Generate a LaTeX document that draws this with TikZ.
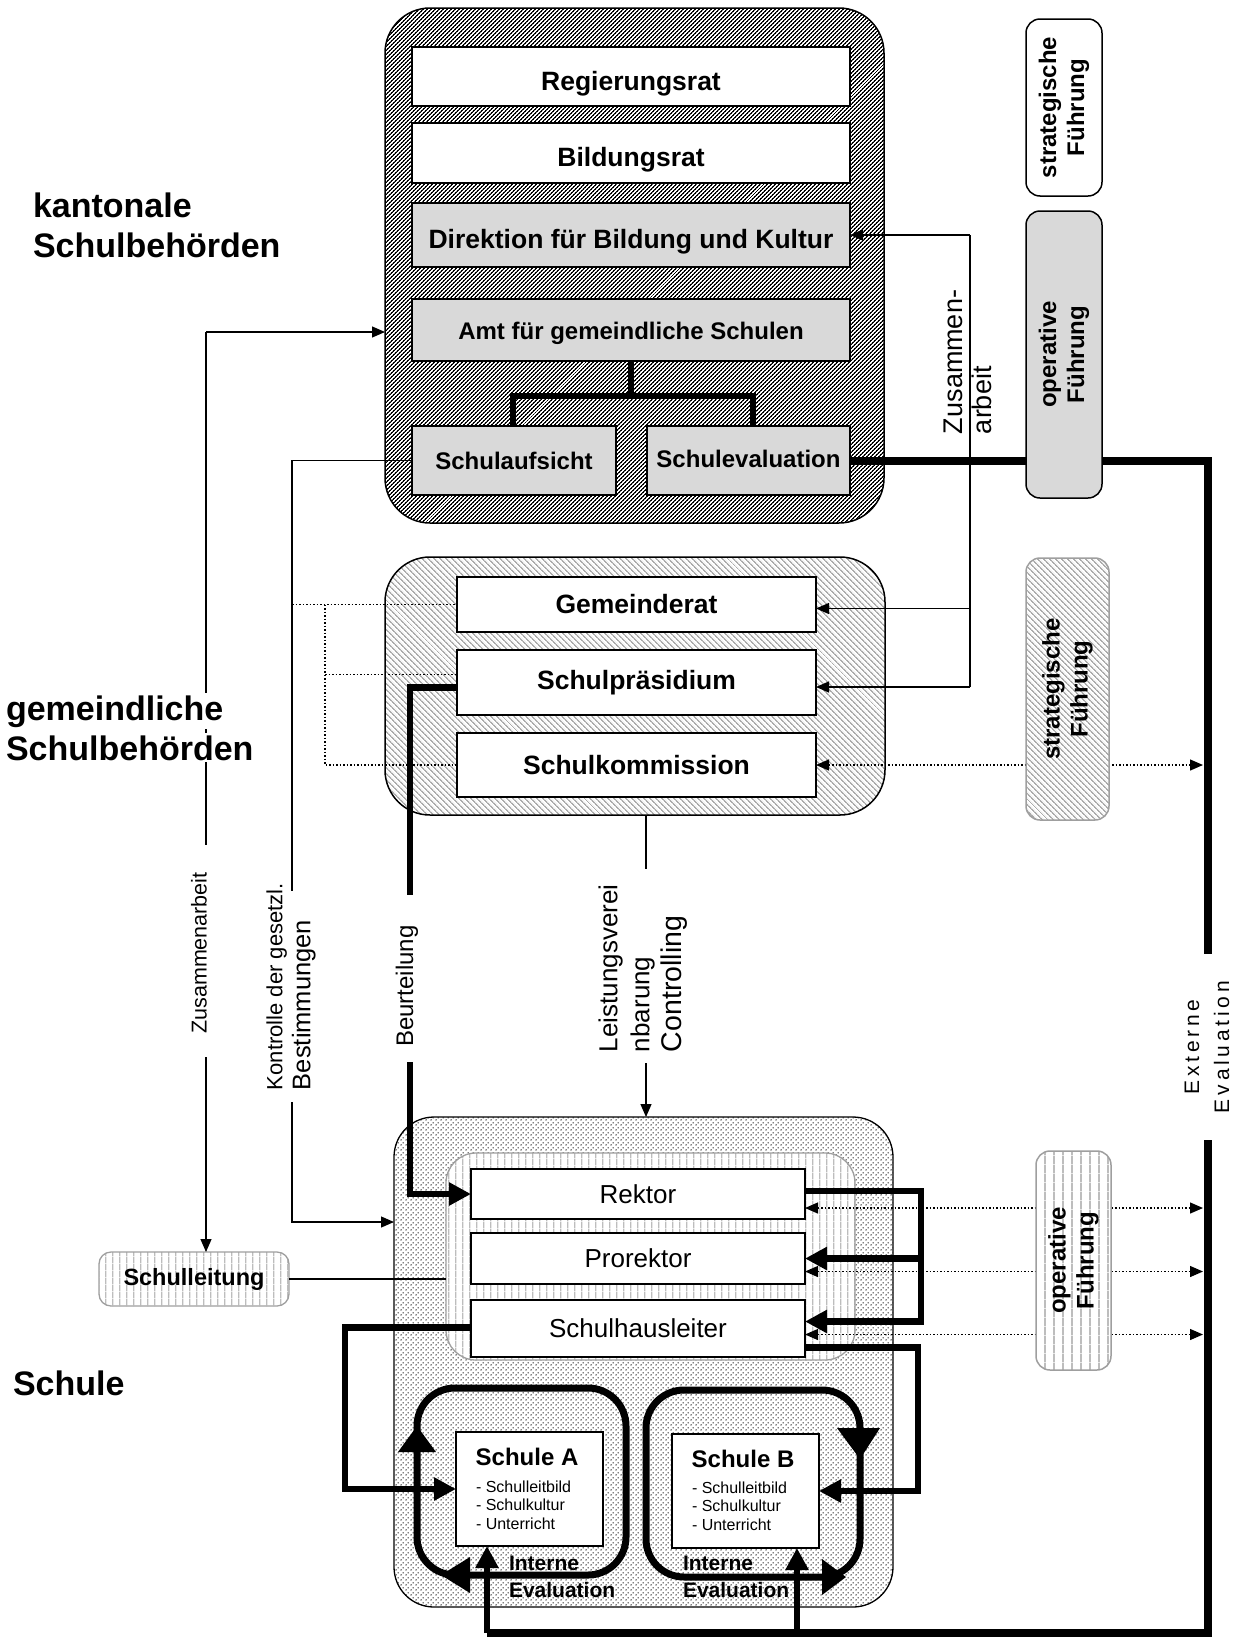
\documentclass[tikz,border=0pt]{standalone}
\usepackage{fontspec}
\setmainfont{Liberation Sans}
\usetikzlibrary{patterns.meta,arrows.meta,calc}
\definecolor{boxgray}{HTML}{D9D9D9}
\definecolor{hatchgray}{HTML}{ABABAB}
\definecolor{stripegray}{HTML}{BDBDBD}
\tikzdeclarepattern{name=hatchNE,
  bottom left={(0pt,0pt)}, top right={(3.2pt,3.2pt)}, tile size={(3.2pt,3.2pt)},
  tile transformation={rotate=-45},
  code={\fill (0pt,-0.2pt) rectangle (1.7pt,3.4pt);}}
\tikzdeclarepattern{name=hatchNW,
  bottom left={(0pt,0pt)}, top right={(4pt,4pt)}, tile size={(4pt,4pt)},
  tile transformation={rotate=45},
  code={\fill (0pt,-0.2pt) rectangle (1.8pt,4.2pt);}}
\tikzdeclarepattern{name=vstripe,
  bottom left={(0pt,0pt)}, top right={(7pt,7pt)}, tile size={(7pt,7pt)},
  code={\fill (0pt,-0.2pt) rectangle (1.6pt,7.2pt);}}
\tikzdeclarepattern{name=vstripewide,
  bottom left={(0pt,0pt)}, top right={(9pt,9pt)}, tile size={(9pt,9pt)},
  code={\fill (0pt,-0.2pt) rectangle (2pt,9.2pt);}}
\tikzdeclarepattern{name=dotgrid,
  bottom left={(0pt,0pt)}, top right={(5pt,5pt)}, tile size={(5pt,5pt)},
  code={\fill (1.25pt,1.25pt) circle (0.85pt); \fill (3.75pt,3.75pt) circle (0.85pt);}}
\begin{document}
\begin{tikzpicture}[x=1pt,y=-1pt,
  every node/.style={inner sep=0pt,outer sep=0pt},
  box/.style={draw,line width=1.3pt,fill=white,anchor=north west,font=\bfseries\fontsize{26.5}{30}\selectfont},
  topbox/.style={box,text height=27pt,text depth=0pt},
  gbox/.style={box,fill=boxgray,font=\bfseries\fontsize{24}{28}\selectfont},
  sbox/.style={draw,line width=1.3pt,fill=white,anchor=north west,font=\fontsize{26}{30}\selectfont},
  sidebox/.style={line width=1.5pt,rounded corners=14pt,anchor=north west},
  sidetext/.style={rotate=90,align=center,font=\bfseries\fontsize{24}{28}\selectfont},
  biglabel/.style={anchor=base west,font=\bfseries\fontsize{34}{40}\selectfont},
  thinl/.style={line width=1.2pt},
  sarrow/.style={thinl,-{Triangle[length=13pt,width=11pt]}},
  dotline/.style={line width=1.3pt,dash pattern=on 1.5pt off 2pt},
  dotarrow/.style={dotline,{Triangle[length=13pt,width=11pt]}-{Triangle[length=13pt,width=11pt]}},
  thk/.style={line width=6.5pt},
  barrow/.style={thk,-{Triangle[length=22pt,width=22pt]}},
  loopl/.style={line width=7pt,rounded corners=38pt},
  evtext/.style={anchor=base west,font=\bfseries\fontsize{21}{26}\selectfont},
]
\fill[white] (0,0) rectangle (1242,1641);
\useasboundingbox (0,0) rectangle (1242,1641);

% ---------------- kantonale Schulbehoerden ----------------
\node[draw,line width=1.5pt,rounded corners=45pt,preaction={fill=white},pattern=hatchNE,pattern color=black,
      anchor=north west,minimum width=499,minimum height=515] (kant) at (385,8) {};
\node[topbox,minimum width=438,minimum height=59] (regierung) at (412,47) {Regierungsrat};
\node[topbox,minimum width=438,minimum height=60] (bildung) at (412,123) {Bildungsrat};
\node[topbox,fill=boxgray,minimum width=438,minimum height=64] (direktion) at (412,203) {Direktion für Bildung und Kultur};
\node[gbox,text height=19pt,text depth=0pt,minimum width=438,minimum height=62] (amt) at (412,299) {Amt für gemeindliche Schulen};
\node[gbox,minimum width=204,minimum height=69] (aufsicht) at (412,426) {Schulaufsicht};
\node[gbox,minimum width=203,minimum height=69] (evaluation) at (647,426) {\raisebox{3pt}{Schulevaluation}};
\coordinate (jL) at (513,396);
\coordinate (jR) at (753,396);
\draw[line width=6pt] (amt.south) -- (amt.south |- jL);
\draw[line width=6pt] (jL |- aufsicht.north) -- (jL) -- (jR) -- (jR |- evaluation.north);

% ---------------- gemeindliche Schulbehoerden ----------------
\node[draw,line width=1.5pt,rounded corners=45pt,preaction={fill=white},pattern=hatchNW,pattern color=hatchgray,
      anchor=north west,minimum width=500,minimum height=258] (gem) at (385,557) {};
\node[box,minimum width=359,minimum height=55] (gemeinderat) at (457,577) {Gemeinderat};
\node[box,minimum width=359,minimum height=65] (praesidium) at (457,650) {Schulpräsidium};
\node[box,minimum width=359,minimum height=64] (kommission) at (457,733) {Schulkommission};

% ---------------- Schule ----------------
\node[draw,line width=1.3pt,rounded corners=40pt,preaction={fill=white},pattern=dotgrid,pattern color=black,
      anchor=north west,minimum width=499,minimum height=490] (schule) at (394,1117) {};
\node[draw=gray!75,line width=1.3pt,rounded corners=30pt,preaction={fill=white},pattern=vstripe,pattern color=stripegray,
      anchor=north west,minimum width=409,minimum height=207] (leitung) at (446,1153) {};
\node[sbox,minimum width=334,minimum height=50] (rektor) at (471,1169) {Rektor};
\node[sbox,minimum width=334,minimum height=51] (prorektor) at (471,1233) {Prorektor};
\node[sbox,minimum width=334,minimum height=57] (schulhaus) at (471,1300) {Schulhausleiter};

% loops (interne Evaluation)
\draw[loopl] (417,1388) rectangle (626,1575);
\draw[loopl] (646,1390) rectangle (860,1577);
\fill (417,1426) -- (398,1452) -- (436,1452) -- cycle;
\fill (441,1575) -- (470,1557) -- (470,1593) -- cycle;
\fill (860,1459) -- (837,1428) -- (880,1428) -- cycle;
\fill (846,1577) -- (822,1559) -- (822,1595) -- cycle;

\node[draw,line width=1.3pt,fill=white,anchor=north west,minimum width=147,minimum height=114] (schuleA) at (456,1432) {};
\node[draw,line width=1.3pt,fill=white,anchor=north west,minimum width=147,minimum height=114] (schuleB) at (672,1434) {};
\node[font=\bfseries\fontsize{24}{28}\selectfont] at (527,1457) {Schule A};
\node[font=\bfseries\fontsize{24}{28}\selectfont] at (743,1459) {Schule B};
\node[anchor=north west,align=left,font=\fontsize{16}{18.3}\selectfont] at (476,1481) {- Schulleitbild\\- Schulkultur\\- Unterricht};
\node[anchor=north west,align=left,font=\fontsize{16}{18.3}\selectfont] at (692,1482) {- Schulleitbild\\- Schulkultur\\- Unterricht};
\node[evtext] at (509,1570) {Interne};
\node[evtext] at (509,1597) {Evaluation};
\node[evtext] at (683,1570) {Interne};
\node[evtext] at (683,1597) {Evaluation};

% Schulleitung
\node[draw=gray!75,line width=1.3pt,rounded corners=12pt,preaction={fill=white},pattern=vstripe,pattern color=stripegray,
      anchor=north west,minimum width=190,minimum height=54,font=\bfseries\fontsize{23.5}{26}\selectfont] (sleitung) at (99,1252) {Schulleitung};

% ---------------- coordinates ----------------
\coordinate (zX) at (206,332);
\coordinate (zGapT) at (206,845);
\coordinate (zGapB) at (206,1057);
\coordinate (kX) at (292,0);
\coordinate (kGapT) at (292,891);
\coordinate (kGapB) at (292,1102);
\coordinate (kIn) at (292,1222);
\coordinate (dX) at (325,0);
\coordinate (bX) at (410,0);
\coordinate (bGapT) at (410,895);
\coordinate (bGapB) at (410,1062);
\coordinate (leiTop) at (646,869);
\coordinate (leiBot) at (646,1063);
\coordinate (zrTop) at (970,235);
\coordinate (zrBot) at (970,687);
\coordinate (ext) at (1203,0);
\coordinate (eX) at (1208,0);
\coordinate (extGapT) at (1208,954);
\coordinate (extGapB) at (1208,1140);
\coordinate (extBot) at (1208,1633);
\coordinate (rX) at (921,0);
\coordinate (sX) at (918,0);
\coordinate (hX) at (345,0);
\coordinate (aIn) at (487,1546);
\coordinate (bIn) at (797,1548);

% ---------------- connectors ----------------
% Zusammenarbeit (left)
\draw[sarrow] (zX) -- (zX -| kant.west);
\draw[thinl] (zX) -- (zGapT);
\draw[sarrow] (zGapB) -- (zGapB |- sleitung.north);
% Kontrolle
\draw[thinl] (aufsicht.west) -- (aufsicht.west -| kX) -- (kGapT);
\draw[sarrow] (kGapB) -- (kIn) -- (kIn -| schule.west);
% dotted links to gemeindliche Behoerden
\draw[dotline] (gemeinderat.west -| kX) -- (gemeinderat.west);
\draw[dotline] (gemeinderat.west -| dX) -- (kommission.west -| dX) -- (kommission.west);
\draw[dotline] ($(praesidium.west -| dX)+(0,-8)$) -- ($(praesidium.west)+(0,-8)$);
% Beurteilung
\draw[thk] ($(praesidium.west)+(0,5)$) -- ($(praesidium.west -| bX)+(0,5)$) -- (bGapT);
\draw[barrow] (bGapB) -- (bGapB |- rektor.west) -- (rektor.west);
% Leistungsvereinbarung
\draw[thinl] (gem.south -| leiTop) -- (leiTop);
\draw[sarrow] (leiBot) -- (schule.north -| leiBot);
% Zusammenarbeit (right)
\draw[thinl] (zrTop) -- (zrBot);
\draw[sarrow] (zrTop) -- (direktion.east);
\draw[sarrow] ($(gemeinderat.east -| zrTop)+(0,4)$) -- ($(gemeinderat.east)+(0,4)$);
\draw[sarrow] (zrBot) -- (zrBot -| praesidium.east);
% Schulleitung
\draw[thinl] (sleitung.east) -- (sleitung.east -| leitung.west);
% Rektor -> Prorektor / Schulhausleiter
\draw[barrow] ($(rektor.east)+(0,-3)$) -- ($(rektor.east -| rX)+(0,-3)$) |- ($(schulhaus.east)+(0,-7)$);
\draw[barrow] (prorektor.east -| rX) -- (prorektor.east);
% Schulhausleiter -> Schule A / Schule B
\draw[barrow] ($(schulhaus.west)+(0,-1)$) -- ($(schulhaus.west -| hX)+(0,-1)$) |- (schuleA.west);
\draw[barrow] ($(schulhaus.east)+(0,19)$) -- ($(schulhaus.east -| sX)+(0,19)$) |- (schuleB.east);
% externe Evaluation
\draw[line width=8pt] (evaluation.east) -- (evaluation.east -| eX) -- (extGapT);
\draw[line width=8pt] (extGapB) -- (extBot) -- (extBot -| aIn);
\draw[barrow] (extBot -| aIn) -- (aIn);
\draw[barrow] (extBot -| bIn) -- (bIn);
% dotted links to externe Evaluation
\draw[dotarrow] (kommission.east) -- (kommission.east -| ext);
\draw[dotarrow] ($(rektor.east)+(0,14)$) -- ($(rektor.east -| ext)+(0,14)$);
\draw[dotarrow] ($(prorektor.east)+(0,13)$) -- ($(prorektor.east -| ext)+(0,13)$);
\draw[dotarrow] ($(schulhaus.east)+(0,6)$) -- ($(schulhaus.east -| ext)+(0,6)$);

% ---------------- side boxes ----------------
\node[sidebox,draw,fill=white,minimum width=76,minimum height=177] (stratTop) at (1026,19) {};
\node[sidetext] at (stratTop.center) {strategische\\Führung};
\node[sidebox,draw,fill=boxgray,minimum width=76,minimum height=287] (opTop) at (1026,211) {};
\node[sidetext] at (opTop.center) {operative\\Führung};
\node[sidebox,draw=gray!75,preaction={fill=white},pattern=hatchNW,pattern color=hatchgray,minimum width=83,minimum height=262] (stratMid) at (1026,558) {};
\node[sidetext] at (stratMid.center) {strategische\\Führung};
\node[sidebox,draw=gray!75,preaction={fill=white},pattern=vstripewide,pattern color=stripegray,minimum width=75,minimum height=219] (opBot) at (1036,1151) {};
\node[sidetext] at (opBot.center) {operative\\Führung};

% ---------------- labels ----------------
\node[biglabel] at (33,217) {kantonale};
\node[biglabel] at (33,257) {Schulbehörden};
\node[biglabel,fill=white,inner sep=2pt] at (4,720) {gemeindliche};
\node[biglabel,fill=white,inner sep=2pt] at (4,760) {Schulbehörden};
\node[biglabel] at (13,1395) {Schule};

\node[rotate=90,font=\fontsize{21.5}{24}\selectfont] at (199,953) {Zusammenarbeit};
\node[rotate=90,anchor=west,align=left,font=\fontsize{22}{28}\selectfont] at (291,1090) {Kontrolle der gesetzl.\\{\fontsize{25.5}{28}\selectfont Bestimmungen}};
\node[rotate=90,font=\fontsize{24}{28}\selectfont] at (407,986) {Beurteilung};
\node[rotate=90,anchor=west,align=left,font=\fontsize{26}{32}\selectfont] at (643,1052) {Leistungsverei\\nbarung\\{\fontsize{28.5}{32}\selectfont Controlling}};
\node[rotate=90,anchor=west,align=left,font=\fontsize{27}{29}\selectfont] at (968,434) {Zusammen-\\arbeit};
\node[rotate=90,align=center,font=\fontsize{21}{30}\selectfont\addfontfeatures{LetterSpace=18}] at (1207,1047) {Externe\\Evaluation};
\end{tikzpicture}
\end{document}
